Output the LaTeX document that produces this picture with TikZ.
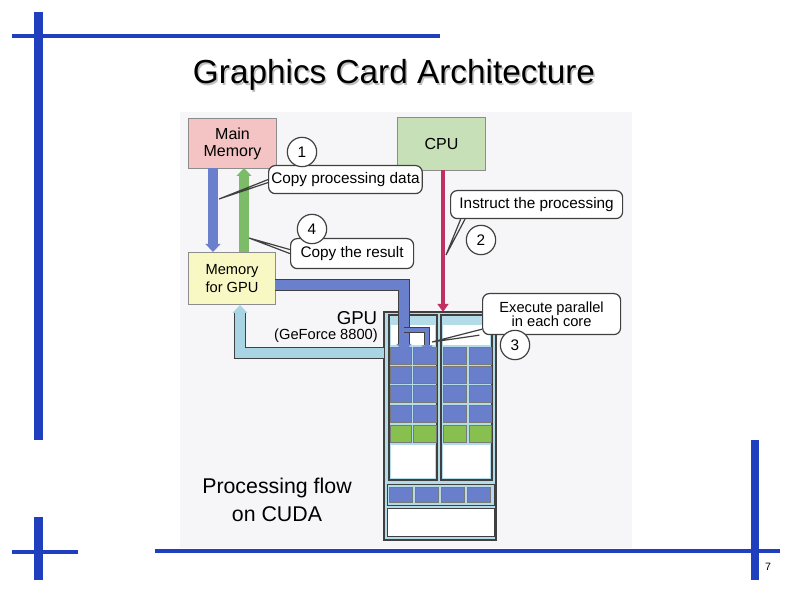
\documentclass[tikz,border=0pt]{standalone}
\usepackage{fontspec}
\setmainfont{Liberation Sans}
\usetikzlibrary{arrows.meta}
\definecolor{slide}{HTML}{1F3FBF}
\definecolor{pinkb}{HTML}{F4C4C4}
\definecolor{greenb}{HTML}{C8E0B8}
\definecolor{yellowb}{HTML}{F8F8C4}
\definecolor{coreb}{HTML}{6A7FCC}
\definecolor{coreg}{HTML}{88C050}
\definecolor{gpub}{HTML}{B4DCE8}
\definecolor{arrb}{HTML}{6A80CC}
\definecolor{arrg}{HTML}{7CBC68}
\definecolor{arrl}{HTML}{A8D4E4}
\definecolor{arrr}{HTML}{C03060}
\definecolor{bg}{HTML}{F6F6F8}
\definecolor{edge}{HTML}{404040}
\begin{document}
\begin{tikzpicture}[x=0.75pt,y=-0.75pt,
  box/.style={draw=edge!60,line width=0.8pt,minimum width=88*0.75pt,minimum height=50*0.75pt,align=center,font=\fontsize{12}{13}\selectfont,inner sep=0pt},
  call/.style={draw=edge,fill=white,rounded corners=5pt,line width=0.9pt,align=center,font=\fontsize{11.5}{11.5}\selectfont,inner sep=2pt},
  num/.style={draw=edge,fill=white,circle,line width=0.9pt,minimum size=22pt,inner sep=0pt,font=\fontsize{11.5}{12}\selectfont},
  core/.style={fill=coreb,draw=edge!70,line width=0.4pt},
  coreG/.style={fill=coreg,draw=edge!70,line width=0.4pt},
  ptr/.style={draw=edge,line width=0.9pt},
  bar/.style={fill=slide}]
\useasboundingbox (0,0) rectangle (794,595);
\fill[white] (0,0) rectangle (794,595);
% slide decorations
\fill[bar] (34,12) rectangle (43,440);
\fill[bar] (12,34) rectangle (440,38);
\fill[bar] (34,517) rectangle (43,580);
\fill[bar] (12,550) rectangle (78,554);
\fill[bar] (155,549) rectangle (780,553);
\fill[bar] (751,440) rectangle (759,580);
\node[font=\fontsize{8}{9}\selectfont] (pg) at (768,567) {7};
\node[font=\fontsize{25}{27}\selectfont,text=gray!50] at (395.5,76.5) {Graphics Card Architecture};
\node[font=\fontsize{25}{27}\selectfont] (title) at (394,75) {Graphics Card Architecture};
% image background
\fill[bg] (180,112) rectangle (632,548);
% boxes
\node[box,fill=pinkb,anchor=north west] (mm) at (188,118) {Main\\Memory};
\node[box,fill=greenb,anchor=north west,minimum height=53*0.75pt] (cpu) at (397,117) {CPU};
\node[box,fill=yellowb,anchor=north west,minimum width=87*0.75pt,minimum height=52*0.75pt,font=\fontsize{11}{14}\selectfont] (mg) at (188,252) {Memory\\for GPU};
% GPU
\draw[fill=gpub,draw=edge,line width=1.2pt] (384,312) rectangle (496,540);
\coordinate (gpuL) at (384,353);
\coordinate (gpuT) at (443,312);
\foreach \xa/\xb in {389/437,441/492}{
  \draw[edge,line width=0.8pt] (\xa,315) rectangle (\xb,480);
  \fill[white] (\xa+2,325) rectangle (\xb-2,345);
  \fill[white] (\xa+2,445) rectangle (\xb-2,478);
}
\foreach \xa/\xb in {390/411,413/436,443/466,469/491}{
  \foreach \ya/\yb in {347/364,366/383,385/402,405/422}{\draw[core] (\xa,\ya) rectangle (\xb,\yb);}
  \draw[coreG] (\xa,425) rectangle (\xb,442);
}
\draw[edge,line width=0.6pt] (387,484) rectangle (494,505);
\foreach \xa in {389,415,441,467}{\draw[core] (\xa,487) rectangle (\xa+23,502);}
\draw[fill=white,draw=edge,line width=0.6pt] (387,508) rectangle (494,536);
% arrows
\draw[arrb,line width=7pt,-{Triangle[length=6pt,width=11pt]}] (213,168) -- (213,252);
\draw[arrg,line width=7pt,-{Triangle[length=6pt,width=11pt]}] (244,252) -- (244,168);
\draw[arrr,line width=2.5pt,-{Triangle[length=6pt,width=8pt]}] (443,170) -- (gpuT);
\draw[edge,line width=9pt] (275,285) -- (404,285) -- (404,345);
\draw[arrb,line width=7pt,-{Triangle[length=6pt,width=11pt]}] (275,285) -- (404,285) -- (404,352);
\draw[edge,line width=5pt] (404,330) -- (427,330) -- (427,345);
\draw[arrb,line width=3.5pt,-{Triangle[length=5pt,width=8pt]}] (404,330) -- (427,330) -- (427,352);
\draw[edge,line width=9pt] (gpuL) -- (240,353) -- (240,312);
\draw[arrl,line width=7pt,-{Triangle[length=6pt,width=11pt]}] (gpuL) -- (240,353) -- (240,305);
% callouts
\node[call,anchor=north west,minimum width=150*0.75pt,minimum height=28*0.75pt] (c1) at (268,165) {Copy processing data};
\node[num] (n1) at (302,152) {1};
\node[call,anchor=north west,minimum width=172*0.75pt,minimum height=28*0.75pt] (c2) at (450,190) {Instruct the processing};
\node[num] (n2) at (481,240) {2};
\node[call,anchor=north west,minimum width=123*0.75pt,minimum height=30*0.75pt] (c4) at (290,238) {Copy the result};
\node[num] (n4) at (312,229) {4};
\node[call,anchor=north west,minimum width=138*0.75pt,minimum height=41*0.75pt,font=\fontsize{11}{11}\selectfont] (c3) at (482,293) {Execute parallel\\in each core};
\node[num] (n3) at (515,345) {3};
% pointers
\coordinate (p1) at (219,199);
\coordinate (p4) at (249,238);
\coordinate (p2) at (446,255);
\coordinate (p3) at (432,342);
\draw[ptr] (c1.west) ++(0,3) -- (p1) -- (c1.west);
\draw[ptr] (c4.west) ++(0,-4) -- (p4) -- (c4.west);
\draw[ptr] (c2.south west) ++(15,0) -- (p2) -- ([xshift=8pt]c2.south west);
\draw[ptr] (c3.south west) ++(0,-6) -- (p3) -- ([xshift=-2pt]c3.south west);
% labels
\node[font=\fontsize{14}{15}\selectfont] (gpu) at (357,318) {GPU};
\node[font=\fontsize{11}{12}\selectfont] (gf) at (326,336) {(GeForce 8800)};
\node[font=\fontsize{16}{21}\selectfont,align=center] (pf) at (277,500) {Processing flow\\on CUDA};
\end{tikzpicture}
\end{document}
